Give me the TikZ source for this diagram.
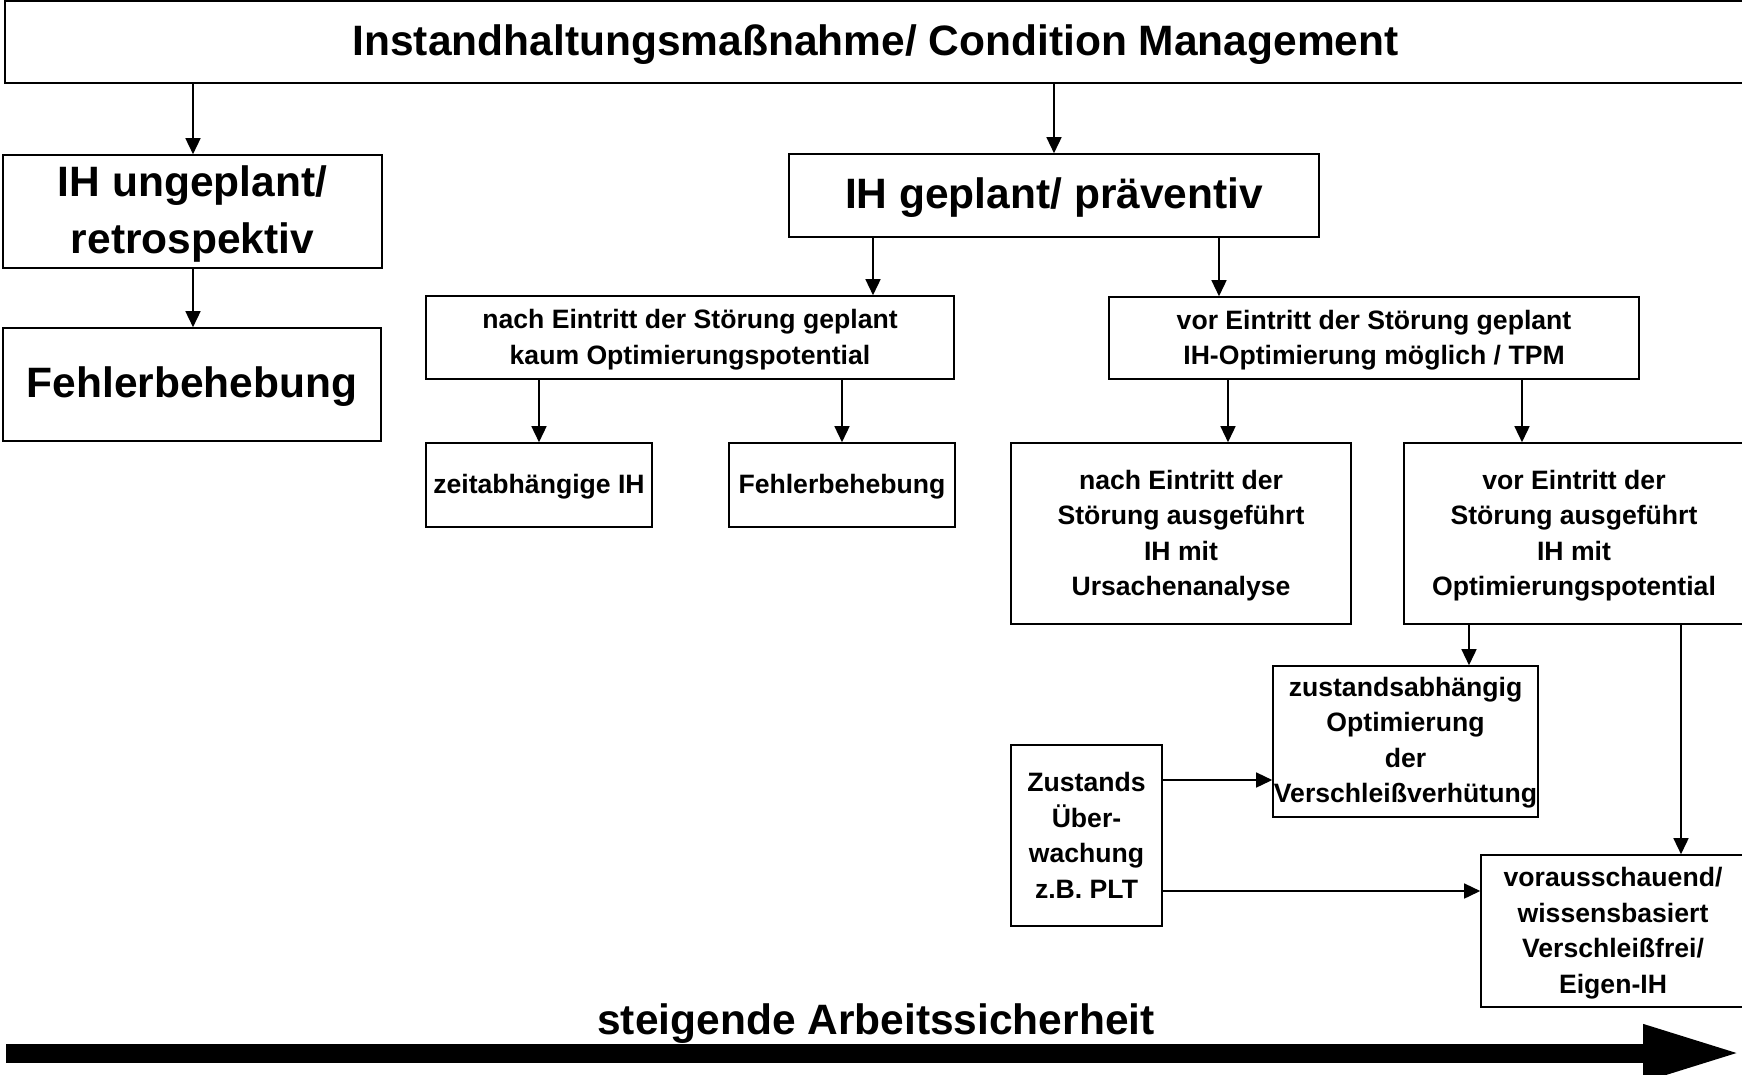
\documentclass[tikz,border=0pt]{standalone}
\usepackage{fontspec}
\setmainfont{Liberation Sans}
\usetikzlibrary{arrows.meta}
\begin{document}
\begin{tikzpicture}[x=1pt,y=-1pt,
  box/.style={draw, line width=1.6pt, inner sep=0pt},
  stxt/.style={align=center, inner sep=0pt, yshift=-2pt, font=\bfseries\fontsize{26.6}{35.5}\selectfont},
  btxt/.style={align=center, inner sep=0pt, yshift=-2.5pt, font=\bfseries\fontsize{42.5}{57}\selectfont},
  arr/.style={line width=1.5pt, -{Triangle[length=16pt,width=15pt]}}]
\useasboundingbox (0,0) rectangle (1742,1074);
\clip (0,0) rectangle (1742,1074);
% nodes
\node[box, minimum width=1741pt, minimum height=82pt, label={[btxt]center:{Instandhaltungsmaßnahme/ Condition Management}}] (top) at (875.5,42) {};
\node[box, minimum width=379pt, minimum height=113pt, label={[btxt]center:{IH ungeplant/\\retrospektiv}}] (ung) at (192.5,211.5) {};
\node[box, minimum width=378pt, minimum height=113pt, label={[btxt]center:{Fehlerbehebung}}] (fl) at (192,384.5) {};
\node[box, minimum width=530pt, minimum height=83pt, label={[btxt]center:{IH geplant/ präventiv}}] (gep) at (1054,195.5) {};
\node[box, minimum width=528pt, minimum height=83pt, label={[stxt]center:{nach Eintritt der Störung geplant\\kaum Optimierungspotential}}] (ng) at (690,337.5) {};
\node[box, minimum width=530pt, minimum height=82pt, label={[stxt]center:{vor Eintritt der Störung geplant\\IH-Optimierung möglich / TPM}}] (vg) at (1374,338) {};
\node[box, minimum width=226pt, minimum height=84pt, label={[stxt]center:{zeitabhängige IH}}] (zeit) at (539,485) {};
\node[box, minimum width=226pt, minimum height=84pt, label={[stxt]center:{Fehlerbehebung}}] (fm) at (842,485) {};
\node[box, minimum width=340pt, minimum height=181pt, label={[stxt]center:{nach Eintritt der\\Störung ausgeführt\\IH mit\\Ursachenanalyse}}] (na) at (1181,533.5) {};
\node[box, minimum width=340pt, minimum height=181pt, label={[stxt]center:{vor Eintritt der\\Störung ausgeführt\\IH mit\\Optimierungspotential}}] (va) at (1574,533.5) {};
\node[box, minimum width=265pt, minimum height=151pt, label={[stxt, yshift=1pt]center:{zustandsabhängig\\Optimierung\\der\\Verschleißverhütung}}] (za) at (1405.5,741.5) {};
\node[box, minimum width=151pt, minimum height=181pt, label={[stxt, yshift=2pt]center:{Zustands\\Über-\\wachung\\z.B. PLT}}] (zu) at (1086.5,835.5) {};
\node[box, minimum width=264pt, minimum height=152pt, label={[stxt]center:{vorausschauend/\\wissensbasiert\\Verschleißfrei/\\Eigen-IH}}] (vs) at (1613,931) {};
% connector guide coordinates
\coordinate (c1) at (873,0);
\coordinate (c2) at (1219,0);
\coordinate (c3) at (1228,0);
\coordinate (c4) at (1522,0);
\coordinate (c5) at (1469,0);
\coordinate (c6) at (1681,0);
\coordinate (c7) at (193,0);
\coordinate (c8) at (1054,0);
\coordinate (r1) at (0,780);
\coordinate (r2) at (0,891);
% connectors
\draw[arr] (top.south -| c7) -- (ung.north -| c7);
\draw[arr] (top.south -| c8) -- (gep.north -| c8);
\draw[arr] (ung.south -| c7) -- (fl.north -| c7);
\draw[arr] (gep.south -| c1) -- (ng.north -| c1);
\draw[arr] (gep.south -| c2) -- (vg.north -| c2);
\draw[arr] (ng.south -| zeit.north) -- (zeit.north);
\draw[arr] (ng.south -| fm.north) -- (fm.north);
\draw[arr] (vg.south -| c3) -- (na.north -| c3);
\draw[arr] (vg.south -| c4) -- (va.north -| c4);
\draw[arr] (va.south -| c5) -- (za.north -| c5);
\draw[arr] (va.south -| c6) -- (vs.north -| c6);
\draw[arr] (zu.east |- r1) -- (za.west |- r1);
\draw[arr] (zu.east |- r2) -- (vs.west |- r2);
% big arrow
\coordinate (bigS) at (6,1053);
\coordinate (bigE) at (1742,1053);
\draw[line width=19pt, -{Triangle[length=99pt,width=52pt]}] (bigS) -- (bigE);
\node[font=\bfseries\fontsize{42.5}{51}\selectfont, anchor=base, inner sep=0pt] (lab) at (876,1034) {steigende Arbeitssicherheit};
\end{tikzpicture}
\end{document}
